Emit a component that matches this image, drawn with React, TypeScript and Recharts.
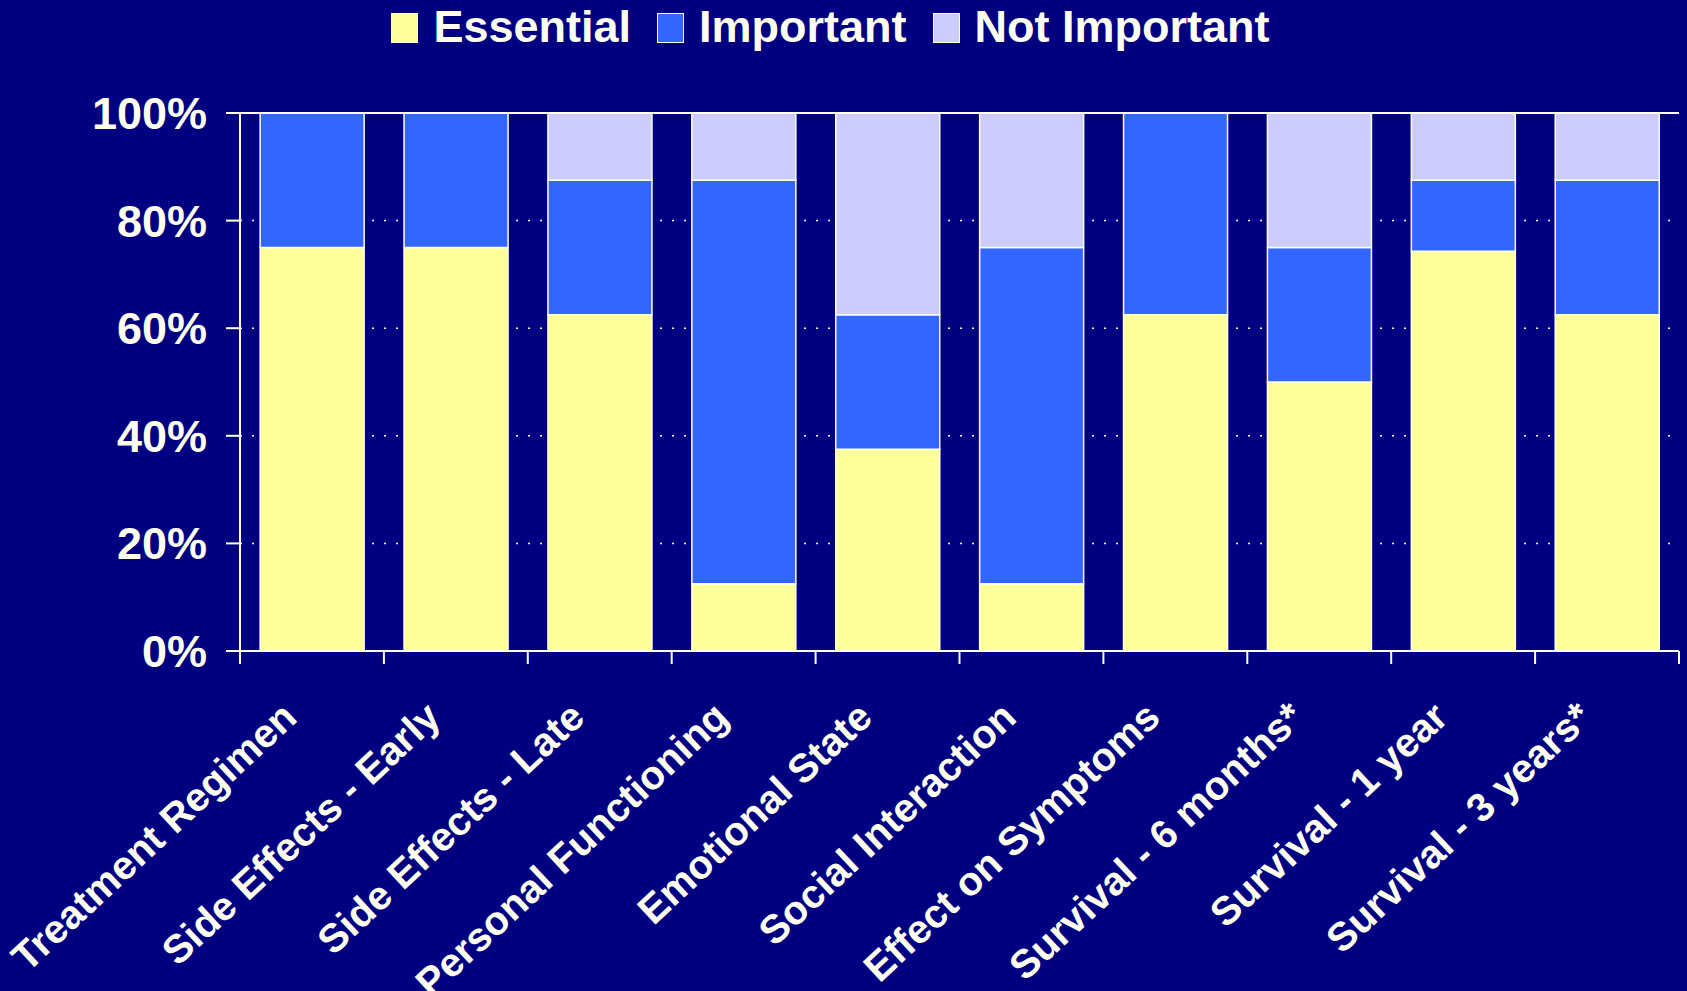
import { Bar, BarChart, CartesianGrid, XAxis, YAxis } from "recharts";

const CATEGORIES = [
  "Treatment Regimen",
  "Side Effects - Early",
  "Side Effects - Late",
  "Personal Functioning",
  "Emotional State",
  "Social Interaction",
  "Effect on Symptoms",
  "Survival - 6 months*",
  "Survival - 1 year",
  "Survival - 3 years*",
];

// share of respondents (%), stacked bottom → top
const ESSENTIAL = [75, 75, 62.5, 12.5, 37.5, 12.5, 62.5, 50, 74.3, 62.5];
const IMPORTANT = [25, 25, 25, 75, 25, 62.5, 37.5, 25, 13.2, 25];
const NOT_IMPORTANT = [0, 0, 12.5, 12.5, 37.5, 25, 0, 25, 12.5, 12.5];

const Y_TICKS = [0, 20, 40, 60, 80, 100];

const SERIES = [
  { key: "essential", label: "Essential", color: "#FFFF99" },
  { key: "important", label: "Important", color: "#3366FF" },
  { key: "notImportant", label: "Not Important", color: "#CCCCFF" },
];

const BG = "#000080";
const INK = "#FFFFF0";
const FONT = '"Liberation Sans", Arial, sans-serif';

const W = 1687;
const H = 991;
const PLOT_LEFT = 240;
const PLOT_RIGHT = 8;
const BAND = (W - PLOT_LEFT - PLOT_RIGHT) / CATEGORIES.length;

const rows = CATEGORIES.map((name, i) => ({
  name,
  essential: ESSENTIAL[i],
  important: IMPORTANT[i],
  notImportant: NOT_IMPORTANT[i],
}));

function CategoryTick(props: any) {
  const { x, y, payload, index } = props;
  const half = payload?.offset || BAND / 2;
  const last = index === CATEGORIES.length - 1;
  const tx = x - 13;
  const ty = y + 69;
  return (
    <g>
      <line x1={x - half} x2={x - half} y1={y} y2={y + 13} stroke={INK} strokeWidth={2} />
      {last && (
        <line x1={x + half} x2={x + half} y1={y} y2={y + 13} stroke={INK} strokeWidth={2} />
      )}
      <text
        x={tx}
        y={ty}
        transform={`rotate(-43, ${tx}, ${ty})`}
        textAnchor="end"
        fill={INK}
        fontSize={40}
        fontWeight="bold"
        fontFamily={FONT}
      >
        {payload.value}
      </text>
    </g>
  );
}

function LegendRow() {
  return (
    <div
      style={{
        position: "absolute",
        top: 4,
        left: 0,
        width: W,
        display: "flex",
        justifyContent: "center",
        fontFamily: FONT,
        fontWeight: "bold",
        fontSize: 45,
        lineHeight: "45px",
        color: INK,
      }}
    >
      {SERIES.map((s) => (
        <div key={s.key} style={{ display: "flex", alignItems: "flex-start", marginRight: 26 }}>
          <span
            style={{
              display: "inline-block",
              width: 25,
              height: 28,
              marginTop: 9,
              marginRight: 15,
              background: s.color,
              border: `1px solid ${INK}`,
            }}
          />
          <span>{s.label}</span>
        </div>
      ))}
    </div>
  );
}

export default function App() {
  return (
    <div
      style={{
        position: "fixed",
        left: 0,
        top: 0,
        width: W,
        height: H,
        background: BG,
        overflow: "hidden",
      }}
    >
      <BarChart
        width={W}
        height={H}
        data={rows}
        margin={{ top: 113, right: PLOT_RIGHT, bottom: 0, left: 0 }}
        barCategoryGap="14%"
      >
        <CartesianGrid
          vertical={false}
          stroke={INK}
          strokeWidth={1.5}
          strokeDasharray="2 10"
        />
        <XAxis
          dataKey="name"
          height={340}
          interval={0}
          tickSize={0}
          tickMargin={0}
          tickLine={false}
          axisLine={{ stroke: INK, strokeWidth: 2 }}
          tick={<CategoryTick />}
        />
        <YAxis
          width={PLOT_LEFT}
          domain={[0, 100]}
          ticks={Y_TICKS}
          tickFormatter={(v: number) => `${v}%`}
          tickSize={14}
          tickMargin={19}
          axisLine={{ stroke: INK, strokeWidth: 2 }}
          tickLine={{ stroke: INK, strokeWidth: 2 }}
          tick={{ fill: INK, fontSize: 45, fontWeight: "bold", fontFamily: FONT }}
        />
        <YAxis
          yAxisId="frame"
          orientation="right"
          width={0}
          domain={[0, 100]}
          tick={false}
          tickLine={false}
          axisLine={{ stroke: INK, strokeWidth: 2 }}
        />
        {SERIES.map((s) => (
          <Bar
            key={s.key}
            dataKey={s.key}
            stackId="a"
            fill={s.color}
            stroke={INK}
            strokeWidth={1.5}
            isAnimationActive={false}
          />
        ))}
      </BarChart>
      {/* solid top edge of the plot frame */}
      <div
        style={{
          position: "absolute",
          left: PLOT_LEFT,
          top: 112,
          width: W - PLOT_LEFT - PLOT_RIGHT,
          height: 2,
          background: INK,
        }}
      />
      <LegendRow />
    </div>
  );
}
